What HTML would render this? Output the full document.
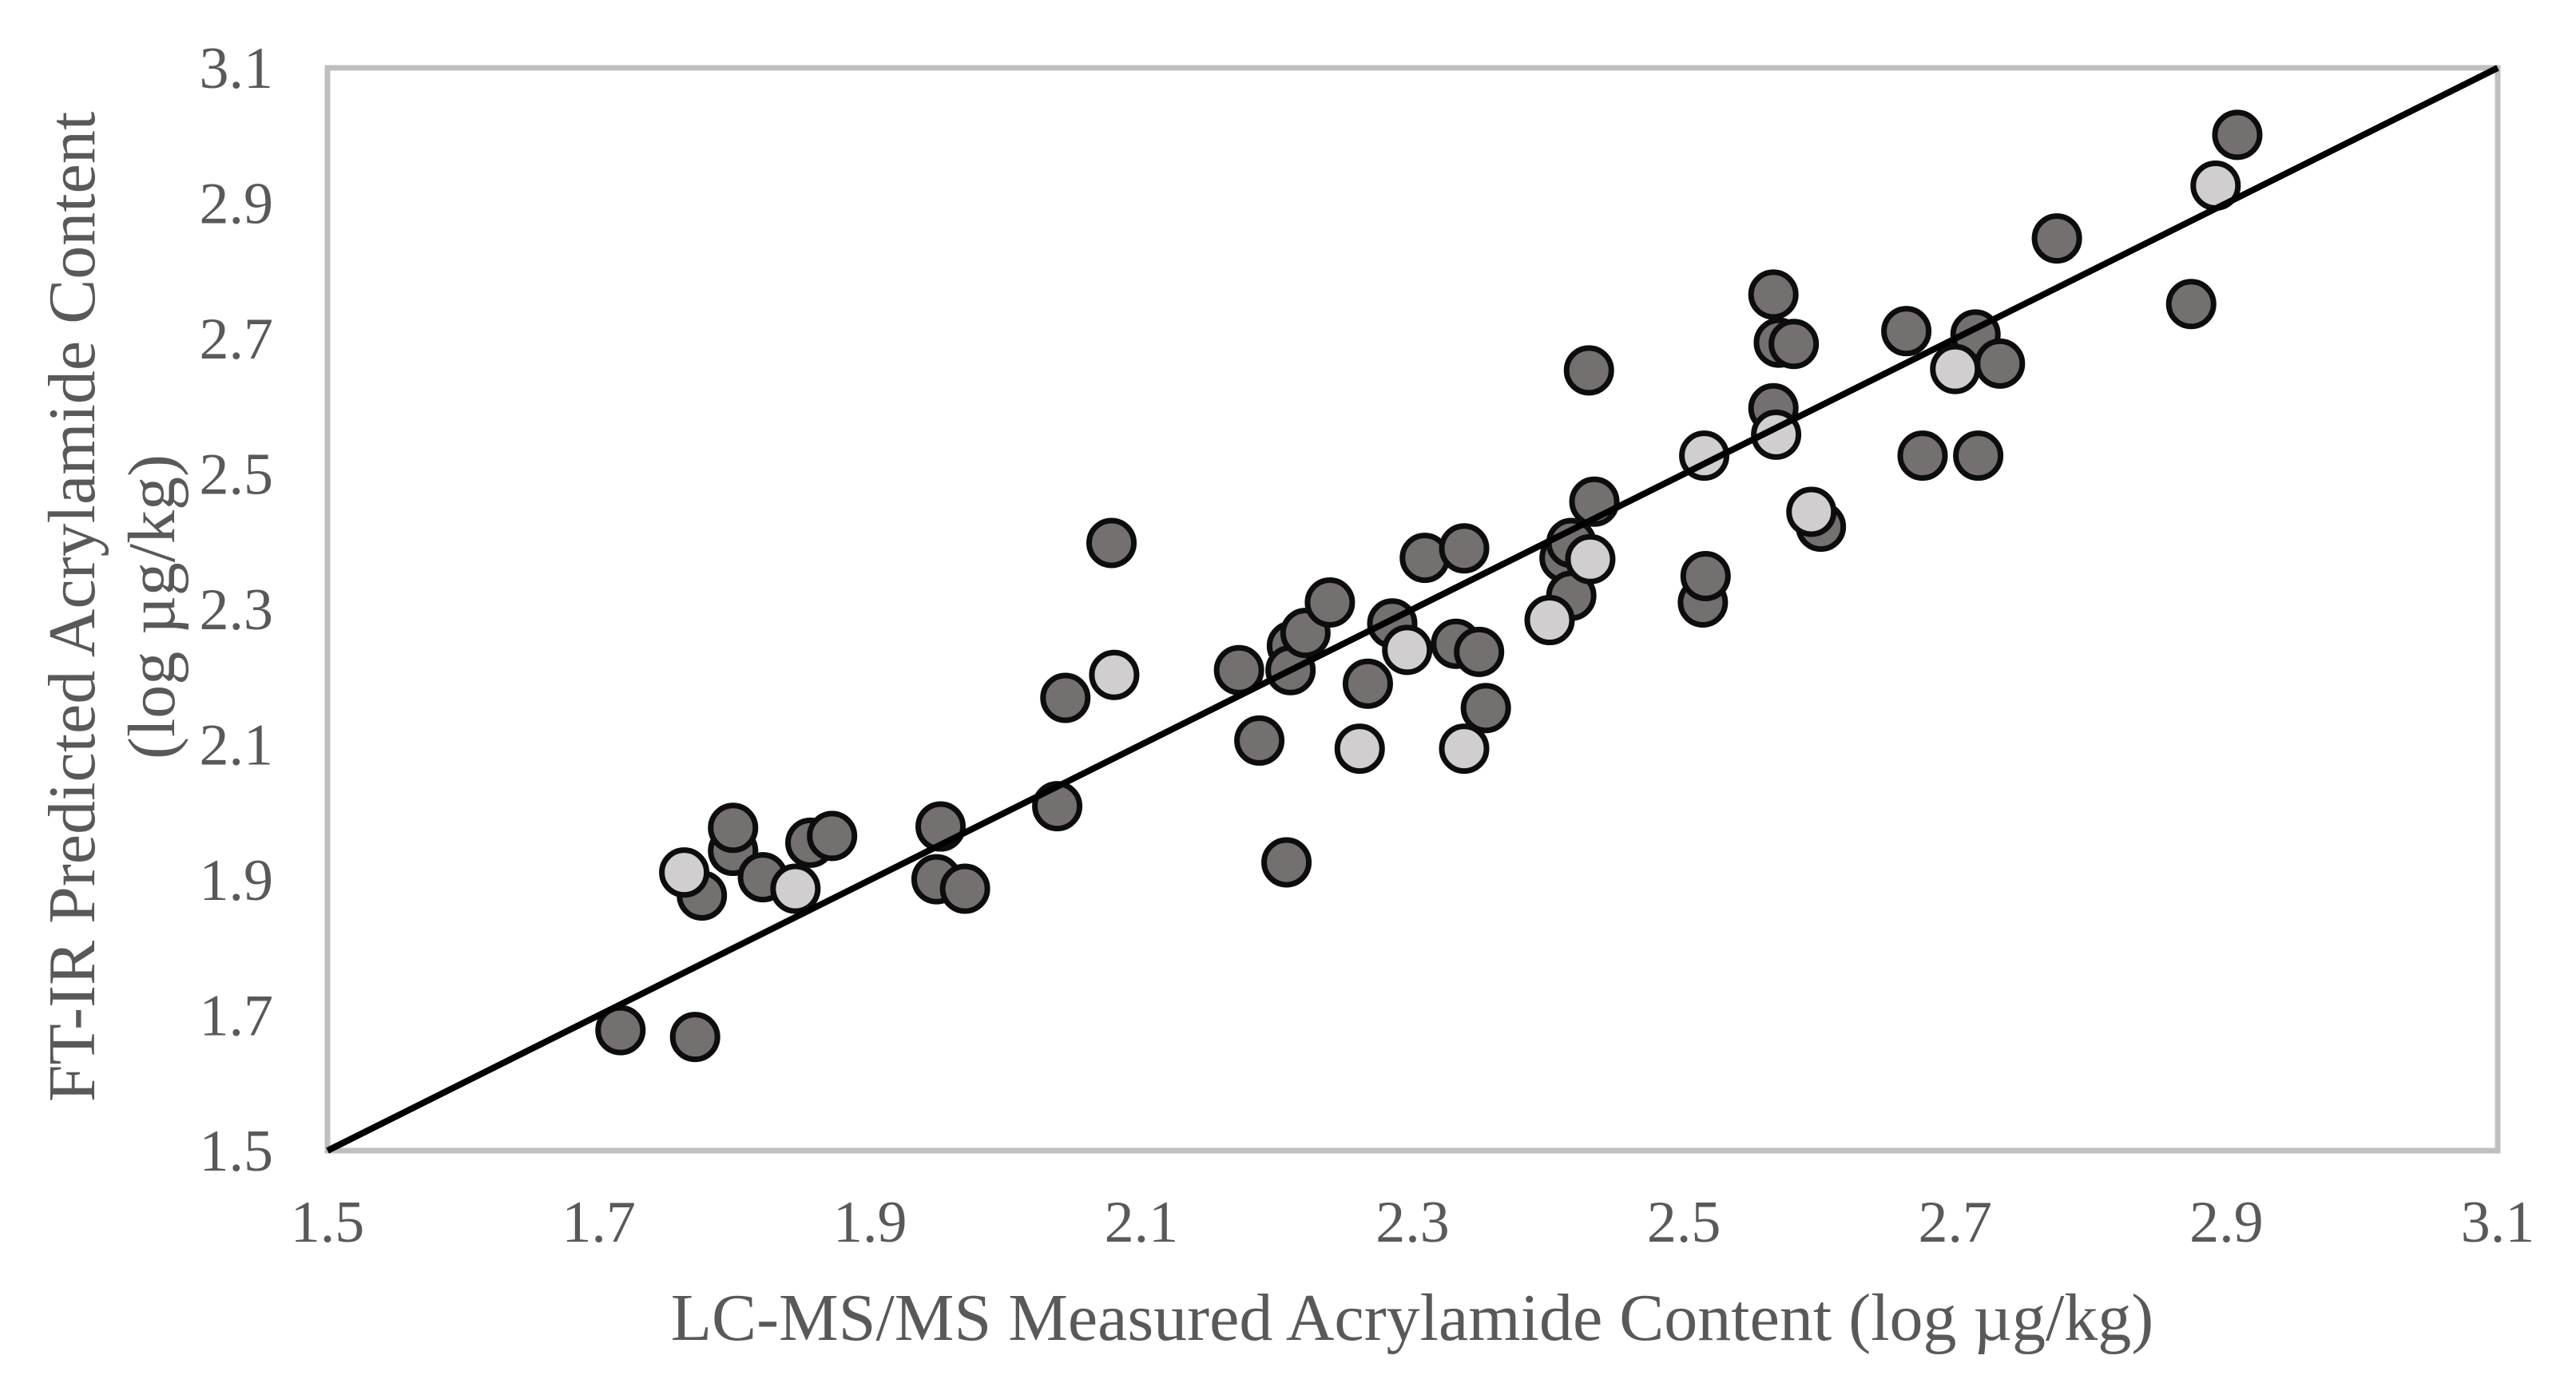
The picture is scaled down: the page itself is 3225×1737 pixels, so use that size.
<!DOCTYPE html>
<html><head><meta charset="utf-8"><style>
html,body{margin:0;padding:0;background:#fff;}
svg{display:block;}
text{font-family:"Liberation Serif",serif;fill:#595959;}
</style></head><body>
<svg id="chart" width="3225" height="1737" viewBox="0 0 3225 1737" xmlns="http://www.w3.org/2000/svg">
<rect x="410" y="85" width="2717" height="1356" fill="#fff" stroke="#bfbfbf" stroke-width="7"/>
<g id="xticks"></g><g id="yticks"></g>
<g id="pts-dark"></g><g id="pts-light"></g><g id="fit"></g>
<text x="1768" y="1678" font-size="84" text-anchor="middle">LC-MS/MS Measured Acrylamide Content (log µg/kg)</text>
<text transform="translate(118,760) rotate(-90)" font-size="84" text-anchor="middle">FT-IR Predicted Acrylamide Content</text>
<text transform="translate(218,760) rotate(-90)" font-size="84" text-anchor="middle">(log µg/kg)</text>
</svg>
<script>
const tickValues = [1.5, 1.7, 1.9, 2.1, 2.3, 2.5, 2.7, 2.9, 3.1];
const tickLabels = ["1.5","1.7","1.9","2.1","2.3","2.5","2.7","2.9","3.1"];
const darkX = [1.716,1.771,1.776,1.799,1.799,1.821,1.856,1.872,1.952,1.949,1.970,2.038,2.044,2.078,2.172,2.187,2.207,2.211,2.210,2.221,2.239,2.267,2.285,2.309,2.338,2.332,2.349,2.354,2.412,2.417,2.417,2.430,2.434,2.514,2.516,2.566,2.566,2.570,2.581,2.601,2.664,2.676,2.715,2.717,2.733,2.775,2.874,2.908];
const darkY = [1.678,1.668,1.877,1.943,1.977,1.904,1.955,1.965,1.979,1.901,1.887,2.009,2.169,2.398,2.210,2.106,1.926,2.246,2.210,2.265,2.310,2.190,2.279,2.376,2.390,2.249,2.237,2.154,2.376,2.398,2.320,2.653,2.459,2.310,2.349,2.765,2.597,2.694,2.692,2.422,2.711,2.527,2.706,2.527,2.663,2.848,2.751,3.001];
const lightX = [1.763,1.845,2.080,2.261,2.296,2.338,2.401,2.431,2.515,2.568,2.594,2.700,2.892];
const lightY = [1.911,1.887,2.203,2.094,2.240,2.094,2.284,2.374,2.527,2.558,2.444,2.655,2.926];
const fitLine = [1.5, 3.1];

const X0=410,X1=3127,Y0=1441,Y1=85,MIN=1.5,MAX=3.1;
function sx(v){return X0+(v-MIN)/(MAX-MIN)*(X1-X0);}
function sy(v){return Y0-(v-MIN)/(MAX-MIN)*(Y0-Y1);}
const NS="http://www.w3.org/2000/svg";
function mk(tag,attrs,parent){const e=document.createElementNS(NS,tag);for(const k in attrs)e.setAttribute(k,attrs[k]);parent.appendChild(e);return e;}

const xg=document.getElementById('xticks'), yg=document.getElementById('yticks');
tickValues.forEach((v,i)=>{
  const t=mk('text',{x:sx(v),y:1555,'font-size':74,'text-anchor':'middle'},xg);
  t.textContent=tickLabels[i];
  
  
  const u=mk('text',{x:342,y:sy(v)+25,'font-size':74,'text-anchor':'end'},yg);
  u.textContent=tickLabels[i];
  
  
});

function drawPts(xs,ys,fill,gid,name){
  const g=document.getElementById(gid);
  xs.forEach((v,i)=>{
    const c=mk('circle',{cx:sx(v),cy:sy(ys[i]),r:28,fill:fill,stroke:'#0d0d0d','stroke-width':7},g);
    
    
  });
}
drawPts(darkX,darkY,'#747070','pts-dark','dark-point');
drawPts(lightX,lightY,'#d0cece','pts-light','light-point');

const ln=mk('line',{x1:sx(fitLine[0]),y1:sy(fitLine[0]),x2:sx(fitLine[1]),y2:sy(fitLine[1]),stroke:'#000','stroke-width':8},document.getElementById('fit'));


</script>
</body></html>
